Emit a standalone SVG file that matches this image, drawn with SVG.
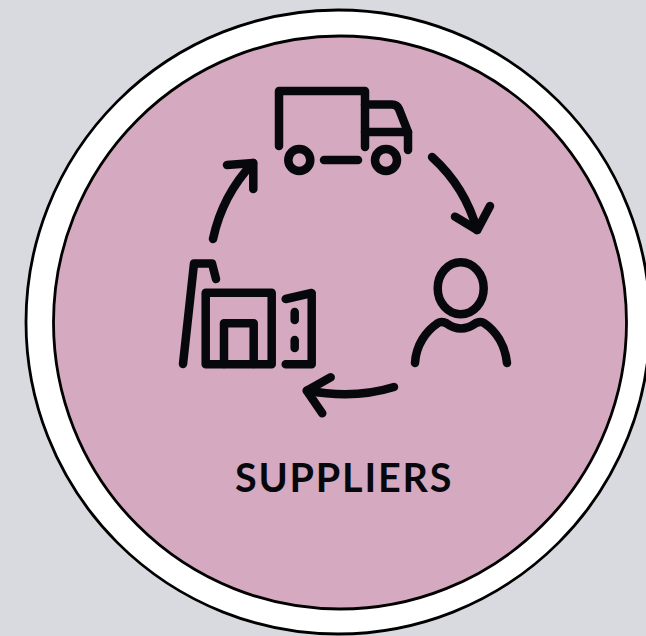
<svg xmlns="http://www.w3.org/2000/svg" width="646" height="636" viewBox="0 0 646 636">
<style>
.ic{fill:none;stroke:#07080c;stroke-width:8.500;stroke-linecap:round;stroke-linejoin:round}
.t{font-family:"Lato","Liberation Sans",sans-serif;font-weight:700;font-size:39.500px;letter-spacing:1.800px;fill:#07080c}
</style>
<rect width="646" height="636" fill="#d9dae0"/>
<g id="badge">
<circle cx="338" cy="322" r="312" fill="#fff" stroke="#000" stroke-width="2.800"/>
<circle cx="340" cy="322.500" r="286.500" fill="#d5a9bf" stroke="#000" stroke-width="2.800"/>
</g>
<g id="truck" class="ic">
<path d="M279 146V91H365V147"/>
<path d="M365 104.500H392Q397 104.500 399 109L408 132V150"/>
<path d="M365 132H408"/>
<circle cx="299.300" cy="160" r="11"/>
<circle cx="386" cy="160" r="11"/>
<path d="M324 160H358"/>
</g>
<g id="person" class="ic">
<ellipse cx="460.700" cy="288.300" rx="23" ry="26"/>
<path d="M415 363C416 345 426 331 438 323Q441 321 446 323Q461 334 476 323Q481 321 484 323C496 331 505 345 507 363"/>
</g>
<g id="factory" class="ic">
<path d="M183 364L194 263.500H212L216 279"/>
<path d="M205.700 364.300V292.700H271.700V364.300Z"/>
<path d="M224 364V323.300H253.700V364"/>
<path d="M285.700 299L311.700 293V364.300H285.700"/>
<path d="M294.700 312V320M294.700 340V348"/>
</g>
<g id="connectors" class="ic">
<path d="M432 157C453 176 469 201 477 230"/>
<path d="M455 216.700L477.300 230L490 206"/>
<path d="M394 387C365 396 336 396 307 390.500"/>
<path d="M330.700 377.300L306.700 390.700L322.300 413.300"/>
<path d="M213 239C219 211 232 185 253 163"/>
<path d="M227 165L253.300 163V189"/>
</g>
<text id="label" class="t" x="235" y="492">SUPPLIERS</text>
</svg>
